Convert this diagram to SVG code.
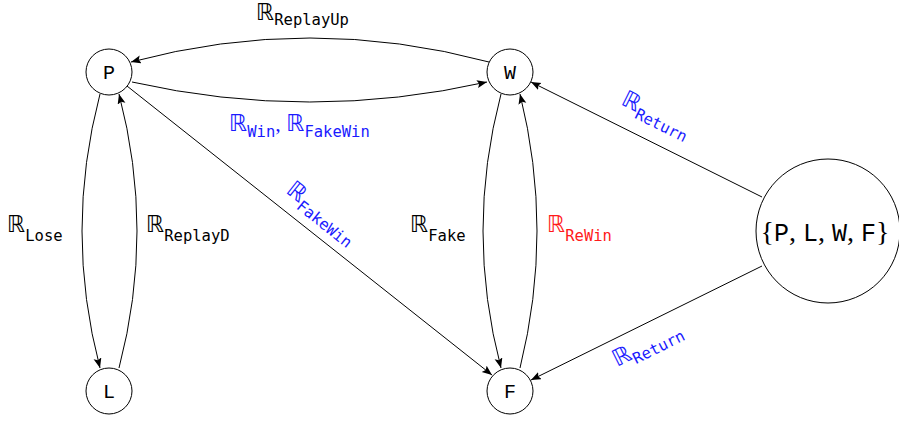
<svg xmlns="http://www.w3.org/2000/svg" width="899" height="421" viewBox="0 0 899 421">
<style>
.node{fill:#fff;stroke:#000;stroke-width:1}
.nl{font-family:"Liberation Mono",monospace;font-size:20px;fill:#000}
.bl{font-family:"Liberation Mono",monospace;font-size:25px}
.bp{font-family:"Liberation Serif",serif;font-size:28px}
.e{fill:none;stroke:#000;stroke-width:1;marker-end:url(#ah)}
.R{font-family:"DejaVu Sans",sans-serif;font-size:23px}
.s{font-family:"DejaVu Sans Mono",monospace;font-size:15.5px}
.pu{font-family:"Liberation Serif",serif;font-size:22px}
.blk{fill:#000}.blu{fill:#1a1aff}.red{fill:#ff1a1a}
</style>
<defs>
<marker id="ah" markerUnits="userSpaceOnUse" markerWidth="12" markerHeight="10" refX="10" refY="4" orient="auto">
<path d="M0,0 L10,4 L0,8 L2,4 Z" fill="#000"/>
</marker>
</defs>
<rect width="899" height="421" fill="#fff"/>
<g id="connectors">
<path class="e" d="M489,62 Q310,14 131,62"/>
<path class="e" d="M132,82 Q310,122 487,82"/>
<path class="e" d="M100,94 Q64,231 100,368"/>
<path class="e" d="M119,368 Q155,231 119,94"/>
<path class="e" d="M501,94 Q465,231 501,368"/>
<path class="e" d="M520,368 Q554,231 520,94"/>
<path class="e" d="M127,86 L492,375"/>
<path class="e" d="M762,197 L531,82"/>
<path class="e" d="M762,266 L531,380"/>
</g>
<g id="labels">
<text class="blk" x="256" y="20"><tspan class="R">ℝ</tspan><tspan class="s" dy="5">ReplayUp</tspan></text>
<text class="blu" x="229" y="131"><tspan class="R">ℝ</tspan><tspan class="s" dy="6">Win</tspan><tspan class="pu" dy="-6">, </tspan><tspan class="R">ℝ</tspan><tspan class="s" dy="6">FakeWin</tspan></text>
<text class="blk" x="7" y="232"><tspan class="R">ℝ</tspan><tspan class="s" dy="9">Lose</tspan></text>
<text class="blk" x="146" y="232"><tspan class="R">ℝ</tspan><tspan class="s" dy="9">ReplayD</tspan></text>
<text class="blk" x="410" y="232"><tspan class="R">ℝ</tspan><tspan class="s" dy="9">Fake</tspan></text>
<text class="red" x="547" y="232"><tspan class="R">ℝ</tspan><tspan class="s" dy="9">ReWin</tspan></text>
<text class="blu" transform="translate(285,192) rotate(38.4)"><tspan class="R">ℝ</tspan><tspan class="s" dy="6">FakeWin</tspan></text>
<text class="blu" transform="translate(620,104) rotate(26.5)"><tspan class="R">ℝ</tspan><tspan class="s" dy="6">Return</tspan></text>
<text class="blu" transform="translate(617,367) rotate(-26.5)"><tspan class="R">ℝ</tspan><tspan class="s" dy="6">Return</tspan></text>
</g>
<g id="node-P"><circle class="node" cx="109" cy="72" r="23"/><text class="nl" x="109" y="79" text-anchor="middle">P</text></g>
<g id="node-W"><circle class="node" cx="510" cy="72" r="23"/><text class="nl" x="510" y="79" text-anchor="middle">W</text></g>
<g id="node-L"><circle class="node" cx="109" cy="391" r="23"/><text class="nl" x="109" y="398" text-anchor="middle">L</text></g>
<g id="node-F"><circle class="node" cx="510" cy="391" r="23"/><text class="nl" x="510" y="398" text-anchor="middle">F</text></g>
<g id="node-ALL"><circle class="node" cx="828" cy="231" r="72"/><text x="825" y="241" text-anchor="middle" class="blk"><tspan class="bp">{</tspan><tspan class="bl">P</tspan><tspan class="bp">, </tspan><tspan class="bl">L</tspan><tspan class="bp">, </tspan><tspan class="bl">W</tspan><tspan class="bp">, </tspan><tspan class="bl">F</tspan><tspan class="bp">}</tspan></text></g>
</svg>
